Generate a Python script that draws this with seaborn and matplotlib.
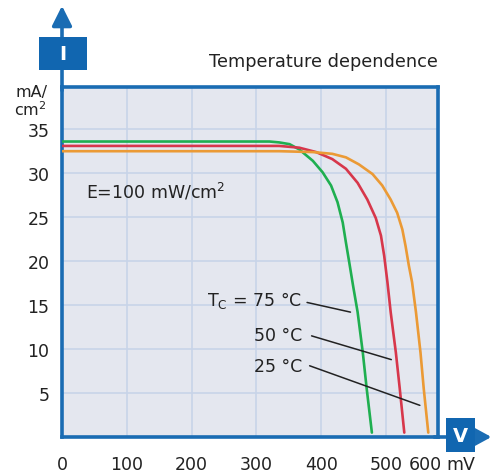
import matplotlib
matplotlib.use("Agg")
import matplotlib.pyplot as plt
from matplotlib.patches import Rectangle
import seaborn as sns
import pandas as pd

# ---- data ----
green_v = [0, 320, 335, 351, 366, 387, 402, 415, 425, 433, 438, 443, 449, 456, 464, 470, 478]
green_i = [33.6, 33.6, 33.5, 33.3, 32.7, 31.4, 30.1, 28.6, 26.7, 24.4, 22.1, 19.9, 17.2, 14.2, 9.6, 5.5, 0.5]
red_v = [0, 335, 366, 392, 417, 438, 456, 471, 484, 492, 497, 502, 507, 515, 521, 528]
red_i = [33.1, 33.1, 32.9, 32.4, 31.6, 30.5, 28.9, 27.0, 24.9, 22.9, 20.6, 17.6, 14.2, 9.6, 5.5, 0.5]
orange_v = [0, 335, 387, 417, 438, 458, 479, 494, 507, 517, 525, 530, 535, 540, 546, 553, 558, 565]
orange_i = [32.5, 32.5, 32.4, 32.2, 31.8, 31.0, 29.9, 28.6, 27.0, 25.5, 23.6, 21.7, 19.5, 17.6, 14.2, 9.6, 5.5, 0.5]

series_names = ["75 °C", "50 °C", "25 °C"]
series_colors = ["#1faf50", "#d7374b", "#eb9a35"]

x_ticks = [0, 100, 200, 300, 400, 500, 560]
x_tick_labels = ["0", "100", "200", "300", "400", "500", "600"]
y_ticks = [5, 10, 15, 20, 25, 30, 35]
y_tick_labels = ["5", "10", "15", "20", "25", "30", "35"]

# ---- build table ----
rows = []
for name, vs, is_ in zip(series_names, [green_v, red_v, orange_v], [green_i, red_i, orange_i]):
    for k, (v, i) in enumerate(zip(vs, is_)):
        rows.append({"V": v, "I": i, "T": name, "order": k})
df = pd.DataFrame(rows)

sns.set_style("white")
plt.rcParams["font.family"] = ["DejaVu Sans"]

BLUE = "#1a6cb3"
TXT = "#222222"
FS = 12.5

fig = plt.figure(figsize=(4.91, 4.77), dpi=100)
ax = fig.add_axes([62 / 491, 39 / 477, 376 / 491, 350 / 477])
ax.set_facecolor("#e4e7ef")

sns.lineplot(data=df, x="V", y="I", hue="T", hue_order=series_names,
             palette=series_colors, sort=False, estimator=None,
             linewidth=1.9, legend=False, ax=ax, zorder=3)

ax.set_xlim(0, 580)
ax.set_ylim(0, 39.8)

# grid
for xv in [100, 200, 300, 400, 500]:
    ax.axvline(xv, color="#c8d4e8", lw=1.2, zorder=1)
for yv in y_ticks:
    ax.axhline(yv, color="#c8d4e8", lw=1.2, zorder=1)

ax.set_xticks(x_ticks)
ax.set_xticklabels(x_tick_labels, fontsize=FS, color=TXT)
ax.set_yticks(y_ticks)
ax.set_yticklabels(y_tick_labels, fontsize=FS, color=TXT)
ax.tick_params(axis="x", length=0, pad=13)
ax.tick_params(axis="y", length=0, pad=9)
ax.set_xlabel("")
ax.set_ylabel("")

for s in ax.spines.values():
    s.set_color(BLUE)
    s.set_linewidth(2.6)

# axis extensions with arrows
ax.annotate("", xy=(0, 1.232), xytext=(0, 0.99), xycoords="axes fraction",
            textcoords="axes fraction",
            arrowprops=dict(arrowstyle="-|>,head_length=0.6,head_width=0.3",
                            color=BLUE, lw=2.6, mutation_scale=20, shrinkA=0, shrinkB=0))
ax.annotate("", xy=(1.142, 0), xytext=(0.99, 0), xycoords="axes fraction",
            textcoords="axes fraction",
            arrowprops=dict(arrowstyle="-|>,head_length=0.55,head_width=0.3",
                            color=BLUE, lw=2.6, mutation_scale=20, shrinkA=0, shrinkB=0))

# boxes
ax.add_patch(Rectangle((-0.061, 1.0486), 0.1275, 0.0943, transform=ax.transAxes,
                       facecolor="#1166b0", edgecolor="none", clip_on=False, zorder=5))
ax.text(0.0025, 1.096, "I", transform=ax.transAxes, ha="center", va="center",
        color="white", fontsize=14, fontweight="bold", zorder=6)
ax.add_patch(Rectangle((1.0213, -0.0429), 0.0771, 0.0972, transform=ax.transAxes,
                       facecolor="#1166b0", edgecolor="none", clip_on=False, zorder=5))
ax.text(1.06, 0.0057, "V", transform=ax.transAxes, ha="center", va="center",
        color="white", fontsize=14, fontweight="bold", zorder=6)

# texts
fig.text(323 / 491, 1 - 62 / 477, "Temperature dependence", ha="center", va="center",
         fontsize=12.8, color=TXT)
fig.text(32 / 491, 1 - 92 / 477, "mA/", ha="center", va="center", fontsize=11.5, color=TXT)
fig.text(30 / 491, 1 - 110 / 477, "cm$^\\mathregular{2}$", ha="center", va="center",
         fontsize=11.5, color=TXT)
fig.text(461 / 491, 1 - 465 / 477, "mV", ha="center", va="center", fontsize=FS, color=TXT)
ax.text(37, 28, "E=100 mW/cm$^\\mathregular{2}$", ha="left", va="center",
        fontsize=FS, color=TXT, zorder=4)

# labels with leader lines
labels = ["T$_\\mathregular{C}$ = 75 °C", "50 °C", "25 °C"]
label_y = [15.6, 11.6, 8.1]
lead_start = [(378, 15.3), (385, 11.5), (382, 8.1)]
lead_end = [(445, 14.2), (508, 8.8), (552, 3.6)]
for lab, ly, (x0, y0), (x1, y1) in zip(labels, label_y, lead_start, lead_end):
    ax.text(370, ly, lab, ha="right", va="center", fontsize=FS, color=TXT, zorder=4)
    ax.plot([x0, x1], [y0, y1], color="#222222", lw=1.1, zorder=4)

fig.savefig("out.png", dpi=100, facecolor="white")
